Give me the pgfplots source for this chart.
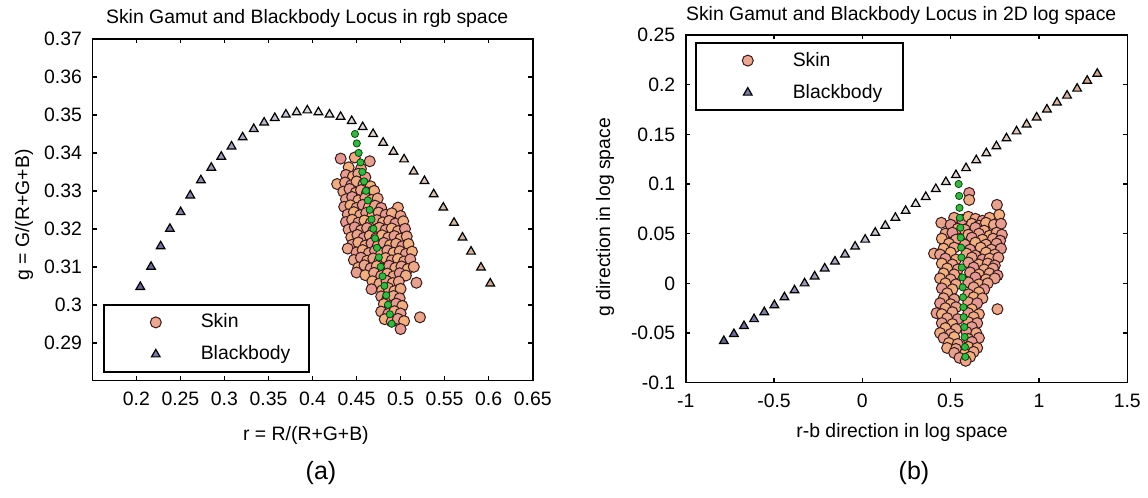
\documentclass[border=0pt]{standalone}
\usepackage{fontspec}
\setmainfont{Liberation Sans}
\usepackage{pgfplots}
\pgfplotsset{compat=1.18}
\definecolor{skinleg}{RGB}{232,168,148}
\definecolor{bbleg}{RGB}{120,120,165}
\definecolor{grn}{RGB}{62,178,72}
\definecolor{skinedge}{RGB}{60,25,25}
\newcommand{\ff}{\fontsize{9.7}{11.6}\selectfont}
\pgfplotsset{
 colormap={mix}{rgb255(0cm)=(100,100,145) rgb255(1.5cm)=(170,168,192) rgb255(2.5cm)=(228,225,228) rgb255(3.8cm)=(220,200,190) rgb255(5cm)=(205,168,148) rgb255(5.01cm)=(226,150,148) rgb255(7.5cm)=(232,166,142) rgb255(10cm)=(240,178,130)},
 myax/.style={
  scale only axis, axis line style={line width=0.8pt},
  every tick/.style={line width=0.8pt, black}, major tick length=2.2pt, tick align=inside,
  tick label style={font=\ff}, label style={font=\ff}, title style={font=\ff, anchor=base, inner sep=0pt},
  xticklabel style={yshift=-2pt}, yticklabel style={xshift=-1.7pt},
  point meta min=0, point meta max=1, colormap name=mix,
  legend cell align=left,
  legend image code/.code={\draw[##1] plot coordinates {(26pt,0pt)}; \path[draw=none,fill=none] (0pt,-8pt) rectangle (45pt,8pt);},
  legend style={draw=black, line width=0.8pt, inner xsep=0pt, inner ysep=0.75pt, row sep=0pt, column sep=1.5pt, font=\ff},
 },
 skinsty/.style={forget plot, scatter, only marks, mark=*, mark size=2.75pt,
  scatter/use mapped color={draw=skinedge, fill=mapped color, line width=0.5pt},
  point meta={0.55+0.045*mod(\coordindex*7,11)}},
 grnsty/.style={forget plot, only marks, mark=*, mark size=1.8pt, mark options={draw=black!70!green, fill=grn, line width=0.4pt}},
 tristy/.style={forget plot, scatter, only marks, mark=triangle*, mark size=2.5pt,
  scatter/use mapped color={draw=black, fill=mapped color, line width=0.6pt}},
}
\begin{document}
\begin{tikzpicture}
%---------------- (a)
\begin{axis}[myax, at={(46.15pt,58.65pt)}, anchor=south west, width=220.2pt, height=170.85pt,
 xmin=0.15, xmax=0.65, ymin=0.28, ymax=0.37,
 xtick={0.2,0.25,0.3,0.35,0.4,0.45,0.5,0.55,0.6,0.65},
 xticklabels={0.2,0.25,0.3,0.35,0.4,0.45,0.5,0.55,0.6,0.65},
 ytick={0.29,0.3,0.31,0.32,0.33,0.34,0.35,0.36,0.37},
 yticklabels={0.29,0.3,0.31,0.32,0.33,0.34,0.35,0.36,0.37},
 title={Skin Gamut and Blackbody Locus in rgb space},
 title style={at={(axis description cs:0.488,1.011)}},
 xlabel={r = R/(R+G+B)}, ylabel={g = G/(R+G+B)},
 xlabel style={at={(axis description cs:0.485,-0.16)}, anchor=center, inner sep=0pt},
 ylabel style={at={(axis description cs:-0.155,0.485)}, anchor=center, inner sep=0pt},
 legend style={at={(axis description cs:0.0243,0.0234)}, anchor=south west},
]
\addplot[skinsty] table {
x y
0.432 0.3385
0.448 0.3388
0.465 0.3378
0.441 0.3362
0.455 0.3358
0.438 0.3342
0.446 0.3338
0.452 0.3345
0.460 0.3336
0.428 0.3318
0.437 0.3322
0.444 0.3315
0.450 0.3325
0.458 0.3318
0.466 0.3312
0.435 0.3298
0.442 0.3305
0.449 0.3295
0.455 0.3302
0.462 0.3296
0.470 0.3300
0.438 0.3278
0.445 0.3284
0.452 0.3275
0.460 0.3282
0.467 0.3276
0.474 0.3280
0.436 0.3258
0.443 0.3262
0.450 0.3255
0.457 0.3263
0.464 0.3257
0.471 0.3261
0.478 0.3255
0.497 0.3256
0.440 0.3238
0.447 0.3244
0.454 0.3236
0.461 0.3242
0.468 0.3235
0.475 0.3243
0.483 0.3237
0.490 0.3241
0.500 0.3234
0.438 0.3218
0.445 0.3224
0.452 0.3216
0.459 0.3222
0.466 0.3215
0.473 0.3223
0.480 0.3217
0.487 0.3221
0.494 0.3214
0.503 0.3220
0.441 0.3198
0.448 0.3204
0.455 0.3196
0.462 0.3202
0.469 0.3195
0.476 0.3203
0.483 0.3197
0.490 0.3201
0.497 0.3194
0.505 0.3200
0.444 0.3178
0.451 0.3184
0.458 0.3176
0.465 0.3182
0.472 0.3175
0.479 0.3183
0.486 0.3177
0.493 0.3181
0.500 0.3174
0.507 0.3180
0.445 0.3158
0.452 0.3164
0.460 0.3156
0.467 0.3162
0.474 0.3155
0.481 0.3163
0.488 0.3157
0.495 0.3161
0.502 0.3154
0.509 0.3160
0.440 0.3148
0.450 0.3138
0.457 0.3144
0.464 0.3136
0.471 0.3142
0.478 0.3135
0.485 0.3143
0.492 0.3137
0.499 0.3141
0.506 0.3134
0.513 0.3140
0.447 0.3118
0.455 0.3124
0.462 0.3116
0.469 0.3122
0.476 0.3115
0.483 0.3123
0.490 0.3117
0.497 0.3121
0.504 0.3114
0.511 0.3120
0.452 0.3098
0.459 0.3104
0.466 0.3096
0.473 0.3102
0.480 0.3095
0.487 0.3103
0.494 0.3097
0.501 0.3101
0.508 0.3094
0.515 0.3100
0.450 0.3085
0.460 0.3078
0.470 0.3084
0.478 0.3076
0.485 0.3082
0.492 0.3075
0.499 0.3083
0.506 0.3077
0.518 0.3058
0.468 0.3062
0.476 0.3056
0.484 0.3063
0.491 0.3057
0.498 0.3061
0.467 0.3041
0.479 0.3038
0.486 0.3044
0.493 0.3036
0.500 0.3042
0.478 0.3022
0.485 0.3016
0.492 0.3023
0.499 0.3017
0.481 0.3002
0.488 0.2996
0.495 0.3003
0.502 0.2997
0.478 0.2982
0.486 0.2976
0.493 0.2983
0.500 0.2977
0.482 0.2962
0.490 0.2956
0.497 0.2963
0.504 0.2957
0.522 0.2967
0.500 0.2936
};
\addplot[grnsty] table {
x y
0.4482 0.3450
0.4503 0.3425
0.4524 0.3400
0.4545 0.3375
0.4565 0.3350
0.4586 0.3325
0.4607 0.3300
0.4628 0.3275
0.4649 0.3250
0.4670 0.3225
0.4691 0.3200
0.4711 0.3175
0.4732 0.3150
0.4753 0.3125
0.4774 0.3100
0.4795 0.3075
0.4816 0.3050
0.4837 0.3025
0.4857 0.3000
0.4878 0.2975
0.4899 0.2950
};
\addplot[tristy, point meta={0.5*\coordindex/34}] coordinates {
(0.2045,0.3047) (0.2167,0.3100) (0.2276,0.3154) (0.2381,0.3200) (0.2503,0.3244)
(0.2612,0.3288) (0.2733,0.3328) (0.2851,0.3361) (0.2964,0.3390) (0.3081,0.3417)
(0.3207,0.3441) (0.3333,0.3463) (0.3451,0.3480) (0.3572,0.3492) (0.3698,0.3501)
(0.3820,0.3507) (0.3941,0.3512) (0.4067,0.3507) (0.4193,0.3501) (0.4319,0.3495)
(0.4445,0.3484) (0.4570,0.3468) (0.4688,0.3450) (0.4802,0.3427) (0.4919,0.3403)
(0.5040,0.3383) (0.5149,0.3351) (0.5271,0.3326) (0.5376,0.3291) (0.5485,0.3256)
(0.5607,0.3216) (0.5703,0.3177) (0.5800,0.3140) (0.5913,0.3098) (0.6018,0.3056)
};
\addlegendimage{only marks, mark=*, mark size=2.75pt, mark options={draw=skinedge, fill=skinleg, line width=0.5pt}}
\addlegendentry{\makebox[52pt][l]{Skin}}
\addlegendimage{only marks, mark=triangle*, mark size=2.5pt, mark options={draw=black, fill=bbleg, line width=0.6pt}}
\addlegendentry{\makebox[52pt][l]{Blackbody}}
\end{axis}
%---------------- (b)
\begin{axis}[myax, at={(342.85pt,57.65pt)}, anchor=south west, width=220.8pt, height=173.85pt,
 xmin=-1, xmax=1.5, ymin=-0.1, ymax=0.25,
 xtick={-1,-0.5,0,0.5,1,1.5},
 xticklabels={-1,-0.5,0,0.5,1,1.5},
 ytick={-0.1,-0.05,0,0.05,0.1,0.15,0.2,0.25},
 yticklabels={-0.1,-0.05,0,0.05,0.1,0.15,0.2,0.25},
 title={Skin Gamut and Blackbody Locus in 2D log space},
 title style={at={(axis description cs:0.488,1.0085)}},
 xlabel={r-b direction in log space}, ylabel={g direction in log space},
 xlabel style={at={(axis description cs:0.49,-0.142)}, anchor=center, inner sep=0pt},
 ylabel style={at={(axis description cs:-0.1825,0.476)}, anchor=center, inner sep=0pt},
 legend style={at={(axis description cs:0.021,0.979)}, anchor=north west},
]
\addplot[skinsty] table {
x y
0.605 0.091
0.605 0.084
0.762 0.079
0.775 0.069
0.520 0.066
0.565 0.064
0.600 0.067
0.640 0.065
0.680 0.063
0.720 0.066
0.447 0.061
0.500 0.059
0.620 0.060
0.660 0.058
0.700 0.061
0.745 0.059
0.785 0.060
0.540 0.055
0.580 0.054
0.640 0.056
0.690 0.053
0.470 0.050
0.510 0.051
0.600 0.049
0.660 0.050
0.720 0.048
0.760 0.051
0.790 0.049
0.450 0.045
0.530 0.044
0.620 0.046
0.680 0.044
0.740 0.045
0.780 0.043
0.490 0.040
0.580 0.039
0.640 0.041
0.700 0.039
0.760 0.040
0.460 0.035
0.520 0.036
0.610 0.034
0.670 0.036
0.730 0.034
0.785 0.035
0.406 0.030
0.440 0.029
0.500 0.031
0.590 0.030
0.640 0.028
0.700 0.031
0.750 0.029
0.470 0.025
0.530 0.024
0.620 0.026
0.680 0.024
0.720 0.025
0.770 0.026
0.450 0.020
0.510 0.019
0.600 0.021
0.660 0.019
0.710 0.020
0.750 0.018
0.480 0.015
0.540 0.014
0.630 0.016
0.690 0.014
0.740 0.015
0.460 0.010
0.520 0.009
0.610 0.011
0.660 0.009
0.720 0.010
0.765 0.008
0.440 0.005
0.500 0.004
0.640 0.006
0.700 0.004
0.750 0.005
0.470 0.000
0.530 -0.001
0.600 0.001
0.660 -0.001
0.710 0.000
0.450 -0.005
0.510 -0.006
0.630 -0.004
0.690 -0.006
0.480 -0.010
0.600 -0.011
0.660 -0.009
0.460 -0.015
0.520 -0.016
0.630 -0.014
0.680 -0.015
0.440 -0.020
0.500 -0.021
0.600 -0.019
0.650 -0.020
0.470 -0.025
0.530 -0.024
0.620 -0.026
0.765 -0.026
0.420 -0.030
0.450 -0.031
0.510 -0.029
0.600 -0.030
0.660 -0.031
0.480 -0.035
0.540 -0.036
0.630 -0.034
0.450 -0.040
0.510 -0.041
0.600 -0.039
0.650 -0.040
0.470 -0.045
0.530 -0.046
0.620 -0.044
0.440 -0.050
0.500 -0.051
0.590 -0.049
0.645 -0.050
0.460 -0.055
0.520 -0.054
0.600 -0.056
0.660 -0.055
0.490 -0.060
0.540 -0.061
0.620 -0.059
0.480 -0.065
0.530 -0.066
0.600 -0.064
0.650 -0.065
0.520 -0.070
0.580 -0.071
0.630 -0.069
0.550 -0.075
0.610 -0.074
0.585 -0.078
};
\addplot[grnsty] table {
x y
0.545 0.100
0.548 0.088
0.550 0.076
0.552 0.066
0.555 0.056
0.557 0.046
0.559 0.036
0.561 0.026
0.563 0.016
0.566 0.006
0.568 -0.004
0.570 -0.014
0.572 -0.024
0.574 -0.034
0.577 -0.044
0.579 -0.054
0.581 -0.064
0.583 -0.074
};
\addplot[tristy, point meta={0.5*\coordindex/37}] coordinates {
(-0.784,-0.058) (-0.727,-0.051) (-0.670,-0.043) (-0.613,-0.036) (-0.555,-0.029)
(-0.498,-0.022) (-0.441,-0.014) (-0.384,-0.007) (-0.327,0.000) (-0.270,0.007)
(-0.213,0.015) (-0.155,0.022) (-0.098,0.029) (-0.041,0.037) (0.016,0.044)
(0.073,0.051) (0.130,0.058) (0.187,0.066) (0.245,0.073) (0.302,0.080)
(0.359,0.087) (0.416,0.095) (0.473,0.102) (0.530,0.109) (0.587,0.116)
(0.645,0.124) (0.702,0.131) (0.759,0.138) (0.816,0.146) (0.873,0.153)
(0.930,0.160) (0.987,0.167) (1.045,0.175) (1.102,0.182) (1.159,0.189)
(1.216,0.196) (1.273,0.204) (1.330,0.211)
};
\addlegendimage{only marks, mark=*, mark size=2.75pt, mark options={draw=skinedge, fill=skinleg, line width=0.5pt}}
\addlegendentry{\makebox[53pt][l]{Skin}}
\addlegendimage{only marks, mark=triangle*, mark size=2.5pt, mark options={draw=black, fill=bbleg, line width=0.6pt}}
\addlegendentry{\makebox[53pt][l]{Blackbody}}
\end{axis}
\node[font=\fontsize{12.5}{15}\selectfont] at (160.5pt,12.5pt) {(a)};
\node[font=\fontsize{12.5}{15}\selectfont] at (457pt,12.5pt) {(b)};
\pgfresetboundingbox
\path[use as bounding box] (0,0) rectangle (574pt,249pt);
\end{tikzpicture}
\end{document}
